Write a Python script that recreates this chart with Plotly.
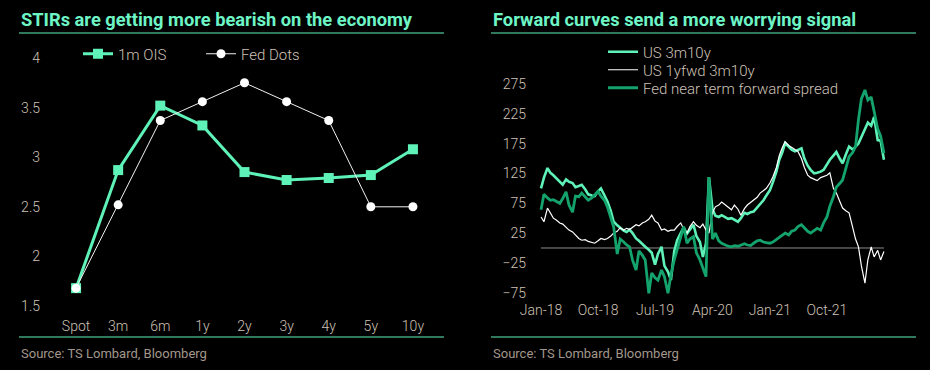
import plotly.graph_objects as go
import pandas as pd

# ---------------- data: left panel ----------------
tenors = ["Spot", "3m", "6m", "1y", "2y", "3y", "4y", "5y", "10y"]
ois_1m = [1.68, 2.87, 3.52, 3.32, 2.85, 2.77, 2.79, 2.82, 3.08]
fed_dots = [1.68, 2.52, 3.37, 3.56, 3.75, 3.56, 3.37, 2.50, 2.50]
left_yticks = [1.5, 2, 2.5, 3, 3.5, 4]

# ---------------- data: right panel (semi-monthly, Jan-2018 .. Jul-2022) ----------------
us_3m10y = [
    100, 118, 134, 126, 122, 117, 112, 106, 115, 111,
    109, 102, 104, 106, 98, 90, 88, 87, 95, 100,
    88, 78, 62, 44, 38, 34, 29, 27, 31, 25,
    16, 12, 6, 2, -3, -8, -28, -10, 2, -30,
    -40, -54, -5, 13, 25, 34, 24, 30, 39, 20,
    10, -15, 8, 119, 65, 54, 52, 55, 52, 49,
    50, 47, 44, 50, 59, 57, 60, 61, 68, 75,
    80, 88, 97, 110, 128, 148, 160, 176, 170, 165,
    162, 164, 167, 150, 138, 131, 125, 126, 128, 131,
    140, 148, 155, 161, 150, 142, 158, 170, 165, 170,
    175, 186, 200, 210, 205, 220, 181, 180, 148,
]
us_1yfwd_3m10y = [
    52, 44, 67, 58, 50, 47, 42, 40, 34, 30,
    27, 22, 16, 13, 14, 11, 9, 8, 12, 16,
    14, 16, 20, 25, 28, 34, 30, 33, 31, 35,
    39, 37, 42, 44, 48, 55, 45, 42, 30, 32,
    28, 30, 30, 36, 42, 32, 25, 36, 44, 38,
    34, 40, 30, 25, 59, 69, 72, 77, 72, 68,
    64, 72, 65, 55, 66, 72, 76, 80, 85, 92,
    96, 100, 109, 119, 135, 155, 168, 178, 172, 168,
    165, 162, 150, 135, 122, 118, 115, 113, 118, 120,
    122, 126, 100, 92, 78, 67, 62, 59, 35, 15,
    2, -30, -59, -20, 2, -15, -4, -20, -6,
]
fed_near_term = [
    64, 90, 84, 80, 81, 78, 75, 83, 94, 72,
    60, 87, 86, 92, 85, 80, 84, 89, 95, 87,
    80, 69, 52, 35, -10, 15, 10, 5, 2, -20,
    -37, -5, -12, -20, -76, -42, -50, -54, -37, -48,
    -76, -45, -20, -3, 20, 36, 8, 15, 19, -8,
    -20, -32, -48, 119, 15, 25, 12, 8, 5, 3,
    2, 4, 3, 5, 7, 5, 4, 8, 12, 13,
    10, 9, 8, 10, 14, 18, 22, 25, 22, 28,
    30, 36, 39, 34, 28, 25, 30, 33, 30, 42,
    52, 70, 86, 102, 108, 114, 135, 153, 160, 170,
    215, 250, 265, 248, 253, 226, 200, 188, 159,
]
dates = pd.date_range("2018-01-01", periods=len(us_3m10y), freq="SMS")
right_xtick_vals = ["2018-01-01", "2018-10-01", "2019-07-01", "2020-04-01", "2021-01-01", "2021-10-01"]
right_xtick_text = ["Jan-18", "Oct-18", "Jul-19", "Apr-20", "Jan-21", "Oct-21"]
right_yticks = [-75, -25, 25, 75, 125, 175, 225, 275]

# ---------------- styling ----------------
W, H = 930, 370
MINT = "#5ff2b8"
DARK = "#14a36c"
TITLE = "#6ef5c6"
TXT = "#cfc2b6"
SRC = "#a3978c"
FONT = "Roboto"


def px(x):
    return x / W


def py(y):
    return 1 - y / H


fig = go.Figure()

fig.add_trace(go.Scatter(
    x=tenors, y=ois_1m, name="1m OIS", mode="lines+markers",
    line=dict(color=MINT, width=3),
    marker=dict(symbol="square", size=10, color=MINT),
    xaxis="x", yaxis="y", legend="legend"))
fig.add_trace(go.Scatter(
    x=tenors, y=fed_dots, name="Fed Dots", mode="lines+markers",
    line=dict(color="#f2f2f2", width=1),
    marker=dict(symbol="circle", size=9, color="#ffffff"),
    xaxis="x", yaxis="y", legend="legend"))

fig.add_trace(go.Scatter(
    x=dates, y=us_3m10y, name="US 3m10y", mode="lines",
    line=dict(color=MINT, width=2.6), xaxis="x2", yaxis="y2", legend="legend2"))
fig.add_trace(go.Scatter(
    x=dates, y=us_1yfwd_3m10y, name="US 1yfwd 3m10y", mode="lines",
    line=dict(color="#ffffff", width=1.2), xaxis="x2", yaxis="y2", legend="legend3"))
fig.add_trace(go.Scatter(
    x=dates, y=fed_near_term, name="Fed near term forward spread", mode="lines",
    line=dict(color=DARK, width=2.8), xaxis="x2", yaxis="y2", legend="legend4"))

tickfont = dict(family=FONT, size=14, color=TXT, weight=300)
axis_common = dict(showgrid=False, zeroline=False, showline=False, ticks="",
                   tickfont=tickfont, automargin=False)
legfont = dict(family=FONT, size=15, color=TXT, weight=300)


def side_legend(ycenter):
    return dict(orientation="v", x=px(603), y=py(ycenter), xanchor="left", yanchor="middle",
                bgcolor="rgba(0,0,0,0)", font=legfont, itemwidth=30)


fig.update_layout(
    width=W, height=H, autosize=False,
    margin=dict(l=0, r=0, t=0, b=0, autoexpand=False),
    paper_bgcolor="#000000", plot_bgcolor="#000000",
    font=dict(family=FONT, color=TXT),
    xaxis=dict(domain=[px(55), px(434)], type="category", range=[-0.5, 8.5],
               anchor="y", ticklabelstandoff=10, **axis_common),
    yaxis=dict(domain=[py(306), py(58)], range=[1.5, 4.0], tickvals=left_yticks,
               anchor="x", ticklabelstandoff=14, **axis_common),
    xaxis2=dict(domain=[px(536), px(890)], type="date",
                range=["2017-12-08", "2022-07-30"],
                tickvals=right_xtick_vals, ticktext=right_xtick_text,
                anchor="y2", ticklabelstandoff=4, **axis_common),
    yaxis2=dict(domain=[py(295.7), py(81)], range=[-80, 280], tickvals=right_yticks,
                anchor="x2", ticklabelstandoff=9, **axis_common),
    legend=dict(orientation="h", x=px(78), y=py(54), xanchor="left", yanchor="middle",
                bgcolor="rgba(0,0,0,0)", font=legfont,
                entrywidth=78, entrywidthmode="pixels", itemwidth=30),
    legend2=side_legend(52),
    legend3=side_legend(70),
    legend4=side_legend(88),
    showlegend=True,
)

# zero line on the right panel
fig.add_shape(type="line", xref="x2", yref="y2", x0=dates[0], x1=dates[-1], y0=0, y1=0,
              line=dict(color="#8c8c8c", width=1), layer="below")

# title rules and footer rules
for (a, b) in [(19, 444), (491, 916)]:
    for yy in (33, 337):
        fig.add_shape(type="line", xref="paper", yref="paper", x0=px(a), x1=px(b),
                      y0=py(yy), y1=py(yy), line=dict(color=MINT, width=1))

titles = [(19, "STIRs are getting more bearish on the economy"),
          (491, "Forward curves send a more worrying signal")]
for x0, t in titles:
    fig.add_annotation(x=px(x0), y=py(19), xref="paper", yref="paper", xanchor="left",
                       yanchor="middle", text="<b>" + t + "</b>", showarrow=False,
                       font=dict(family=FONT, size=18.3, color=TITLE))
    fig.add_annotation(x=px(x0), y=py(353), xref="paper", yref="paper", xanchor="left",
                       yanchor="middle", text="Source: TS Lombard, Bloomberg", showarrow=False,
                       font=dict(family=FONT, size=13, color=SRC))

fig.write_html("out.html", config={"displayModeBar": False},
               post_script="document.body.style.margin='0';")
